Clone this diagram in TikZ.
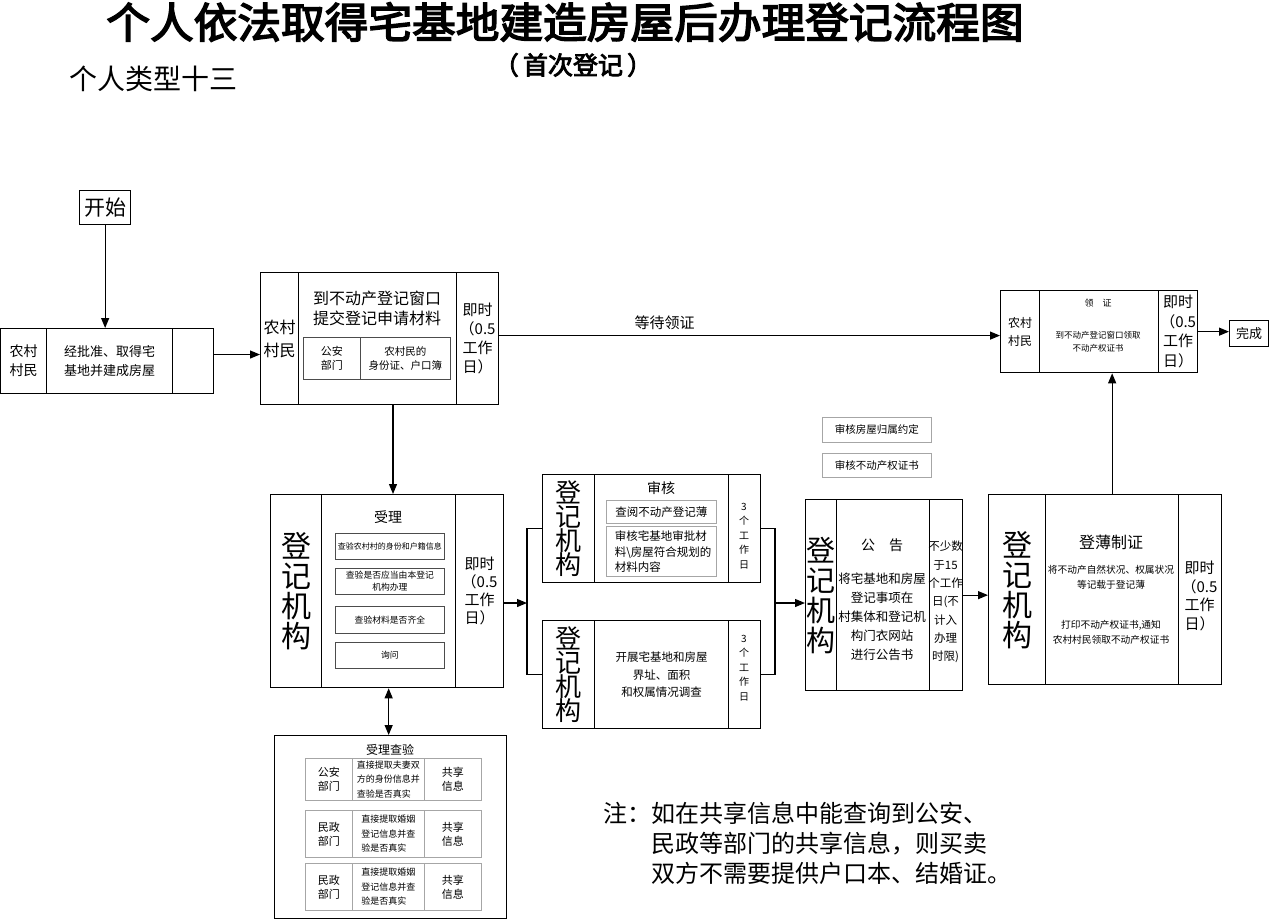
\documentclass[tikz,border=0pt]{standalone}
\usepackage{fontspec}
\setmainfont{Noto Sans CJK SC}
\newfontfamily\titlefont[FakeBold=3.5]{Noto Sans CJK SC}
\usetikzlibrary{arrows.meta,calc}
\newcommand\fs[2]{\fontsize{#1}{#2}\selectfont}
\begin{document}
\begin{tikzpicture}[x=1pt,y=-1pt,
  cell/.style={draw=black, line width=1.3pt, inner sep=0pt, anchor=north west, align=center},
  sub/.style={draw=black!70, line width=0.8pt, inner sep=0pt, anchor=north west, align=center},
  lsub/.style={draw=black!35, line width=0.9pt, inner sep=0pt, anchor=north west, align=center},
  txt/.style={inner sep=0pt, align=center},
  arr/.style={-{Triangle[length=10pt,width=8pt]}, line width=1.2pt},
  darr/.style={{Triangle[length=10pt,width=8pt]}-{Triangle[length=10pt,width=8pt]}, line width=1.2pt},
  ln/.style={line width=1.2pt}]
\useasboundingbox (0,0) rectangle (1269,920);
\fill[white] (0,0) rectangle (1269,920);

% titles
\node[txt, font=\titlefont\fs{42}{42}] (title) at (565,22) {\scalebox{1.04}[1]{个人依法取得宅基地建造房屋后办理登记流程图}};
\node[txt, font=\titlefont\fs{25}{25}] (subtitle) at (573,65) {（\,首次登记\,）};
\node[txt, font=\fs{28}{28}] (type) at (153,79) {个人类型十三};

% start
\node[cell, minimum width=51, minimum height=34, font=\fs{21}{21}] (start) at (79,190) {开始};

% box 1
\node[cell, minimum width=46, minimum height=65, font=\fs{14}{19}] (b1a) at (0,328) {农村\\村民};
\node[cell, minimum width=126, minimum height=65, font=\fs{13}{19}] (b1b) at (46,328) {经批准、取得宅\\基地并建成房屋};
\node[cell, minimum width=41, minimum height=65] (b1c) at (172,328) {};

% box 2
\node[cell, minimum width=38, minimum height=132, font=\fs{16}{23}] (b2a) at (260,272) {农村\\村民};
\node[cell, minimum width=158, minimum height=132] (b2b) at (298,272) {};
\node[cell, minimum width=42, minimum height=132, font=\fs{15}{19}] (b2c) at (456,272) {即时\\（0.5\\工作\\日）};
\node[txt, font=\fs{16}{20}] (b2t) at (377,308) {到不动产登记窗口\\提交登记申请材料};
\node[sub, minimum width=57, minimum height=42, font=\fs{11}{14}] (b2i1) at (303,337) {公安\\部门};
\node[sub, minimum width=90, minimum height=42, font=\fs{10.5}{14}] (b2i2) at (360,337) {农村民的\\身份证、户口簿};

% top right box
\node[cell, minimum width=39, minimum height=82, font=\fs{12}{18}] (b8a) at (1000,290) {农村\\村民};
\node[cell, minimum width=119, minimum height=82] (b8b) at (1039,290) {};
\node[cell, minimum width=39, minimum height=82, font=\fs{15}{19.5}] (b8c) at (1158,290) {即时\\（0.5\\工作\\日）};
\node[txt, font=\fs{9}{9}] (b8t1) at (1098,303) {领\quad 证};
\node[txt, font=\fs{8.5}{13}] (b8t2) at (1098,342) {到不动产登记窗口领取\\不动产权证书};
\node[cell, minimum width=39, minimum height=26, font=\fs{13}{13}] (done) at (1229,320) {完成};

% box 3 (受理)
\node[cell, minimum width=51, minimum height=193, font=\fs{30}{30}] (b3a) at (270,494) {登\\记\\机\\构};
\node[cell, minimum width=134, minimum height=193] (b3b) at (321,494) {};
\node[cell, minimum width=48, minimum height=193, font=\fs{15}{18}] (b3c) at (455,494) {即时\\（0.5\\工作\\日）};
\node[txt, font=\fs{14}{14}] (b3t) at (388,517) {受理};
\node[sub, minimum width=109, minimum height=26, font=\fs{8}{12}] (s1) at (335,533) {查验农村村的身份和户籍信息};
\node[sub, minimum width=109, minimum height=26, font=\fs{8.8}{12}] (s2) at (335,568) {查验是否应当由本登记\\机构办理};
\node[sub, minimum width=109, minimum height=27, font=\fs{8.8}{12}] (s3) at (335,606) {查验材料是否齐全};
\node[sub, minimum width=109, minimum height=26, font=\fs{8.8}{12}] (s4) at (335,642) {询问};

% box 4a (审核)
\node[cell, minimum width=52, minimum height=108, font=\fs{26}{24}] (b4aa) at (542,474) {登\\记\\机\\构};
\node[cell, minimum width=134, minimum height=108] (b4ab) at (594,474) {};
\node[cell, minimum width=32, minimum height=108] (b4ac) at (728,474) {};
\node[txt, font=\fs{14}{14}] (b4at) at (661,488) {审核};
\node[lsub, minimum width=110, minimum height=23, font=\fs{11.5}{11.5}] (b4ai1) at (606,500) {查阅不动产登记薄};
\node[lsub, minimum width=110, minimum height=50] (b4ai2) at (606,526) {};
\node[txt, align=left, font=\fs{11.5}{15.5}] (b4ai2t) at (663,552) {审核宅基地审批材\\料\textbackslash 房屋符合规划的\\材料内容};
\node[txt, font=\fs{10}{14.5}] (b4act) at (744,536) {3\\个\\工\\作\\日};

% box 4b (调查)
\node[cell, minimum width=52, minimum height=108, font=\fs{26}{24}] (b4ba) at (542,620) {登\\记\\机\\构};
\node[cell, minimum width=134, minimum height=108, font=\fs{11.5}{17.5}] (b4bb) at (594,620) {开展宅基地和房屋\\界址、面积\\和权属情况调查};
\node[cell, minimum width=32, minimum height=108] (b4bc) at (728,620) {};
\node[txt, font=\fs{10}{14.5}] (b4bct) at (744,668) {3\\个\\工\\作\\日};

% review boxes
\node[lsub, minimum width=109, minimum height=25, font=\fs{10.5}{10.5}] (rv1) at (822,417) {审核房屋归属约定};
\node[lsub, minimum width=109, minimum height=24, font=\fs{10.5}{10.5}] (rv2) at (822,453) {审核不动产权证书};

% box 5 (公告)
\node[cell, minimum width=31, minimum height=191, font=\fs{29}{30}] (b5a) at (805,499) {登\\记\\机\\构};
\node[cell, minimum width=93, minimum height=191] (b5b) at (836,499) {};
\node[cell, minimum width=33, minimum height=191] (b5c) at (929,499) {};
\node[txt, font=\fs{14}{14}] (b5t) at (882,545) {公\quad 告};
\node[txt, font=\fs{12.5}{19}] (b5t2) at (882,617) {将宅基地和房屋\\登记事项在\\村集体和登记机\\构门衣网站\\进行公告书};
\node[txt, font=\fs{11.5}{18.3}] (b5ct) at (945.5,602) {不少数\\于15\\个工作\\日(不\\计入\\办理\\时限)};

% box 6 (登薄制证)
\node[cell, minimum width=57, minimum height=190, font=\fs{30}{30}] (b6a) at (988,494) {登\\记\\机\\构};
\node[cell, minimum width=133, minimum height=190] (b6b) at (1045,494) {};
\node[cell, minimum width=43, minimum height=190] (b6c) at (1178,494) {};
\node[txt, font=\fs{16}{16}] (b6t) at (1111,542) {登薄制证};
\node[txt, font=\fs{9.7}{15}] (b6t2) at (1111,577.5) {将不动产自然状况、权属状况\\等记载于登记薄};
\node[txt, font=\fs{9.7}{15}] (b6t3) at (1111,632.5) {打印不动产权证书,通知\\农村村民领取不动产权证书};
\node[txt, font=\fs{15}{18.5}] (b6ct) at (1199.5,596) {即时\\（0.5\\工作\\日）};

% box 7 (受理查验)
\node[cell, minimum width=232, minimum height=183] (b7) at (274,735) {};
\node[txt, font=\fs{12}{12}] (b7t) at (390,750) {受理查验};
\node[lsub, minimum width=47, minimum height=42, font=\fs{11}{14}] (r1a) at (305,758) {公安\\部门};
\node[lsub, minimum width=72, minimum height=42, font=\fs{9}{14.5}, align=left] (r1b) at (352,758) {直接提取夫妻双\\方的身份信息并\\查验是否真实};
\node[lsub, minimum width=57, minimum height=42, font=\fs{11}{14}] (r1c) at (424,758) {共享\\信息};
\node[lsub, minimum width=47, minimum height=47, font=\fs{11}{14}] (r2a) at (305,810) {民政\\部门};
\node[lsub, minimum width=72, minimum height=47, font=\fs{9}{14.5}, align=left] (r2b) at (352,810) {直接提取婚姻\\登记信息并查\\验是否真实};
\node[lsub, minimum width=57, minimum height=47, font=\fs{11}{14}] (r2c) at (424,810) {共享\\信息};
\node[lsub, minimum width=47, minimum height=47, font=\fs{11}{14}] (r3a) at (305,863) {民政\\部门};
\node[lsub, minimum width=72, minimum height=47, font=\fs{9}{14.5}, align=left] (r3b) at (352,863) {直接提取婚姻\\登记信息并查\\验是否真实};
\node[lsub, minimum width=57, minimum height=47, font=\fs{11}{14}] (r3c) at (424,863) {共享\\信息};

% note
\node[txt, anchor=north west, align=left, font=\fs{24}{30}] (note) at (603,802) {注：如在共享信息中能查询到公安、\\\hphantom{注：}民政等部门的共享信息，则买卖\\\hphantom{注：}双方不需要提供户口本、结婚证。};

% connectors
\draw[arr] (start.south) -- (start.south |- b1b.north);
\coordinate (p1) at ($(b1c.north east)!0.4!(b1c.south east)$);
\draw[arr] (p1) -- (p1 -| b2a.west);
\coordinate (p2) at ($(b2c.north east)!0.477!(b2c.south east)$);
\draw[arr] (p2) -- node[pos=0.33, above=5pt, inner sep=0pt, font=\fs{15}{15}] (wait) {等待领证} (p2 -| b8a.west);
\draw[arr] (b8c.east) -- (b8c.east -| done.west);
\coordinate (p3) at (393,404);
\draw[arr] (p3) -- (p3 |- b3b.north);
\draw[darr] (b3b.south) -- (b3b.south |- b7.north);
\coordinate (brL) at (527,603);
\draw[arr] (brL -| b3c.east) -- (brL);
\draw[ln] (b4aa.west) -| (brL) |- (b4ba.west);
\coordinate (brR) at (775,603);
\draw[ln] (b4ac.east) -| (brR) |- (b4bc.east);
\draw[arr] (brR) -- (brR -| b5a.west);
\draw[arr] (b5c.east) -- (b5c.east -| b6a.west);
\draw[arr] (b6b.north) -- (b6b.north |- b8b.south);
\end{tikzpicture}
\end{document}
